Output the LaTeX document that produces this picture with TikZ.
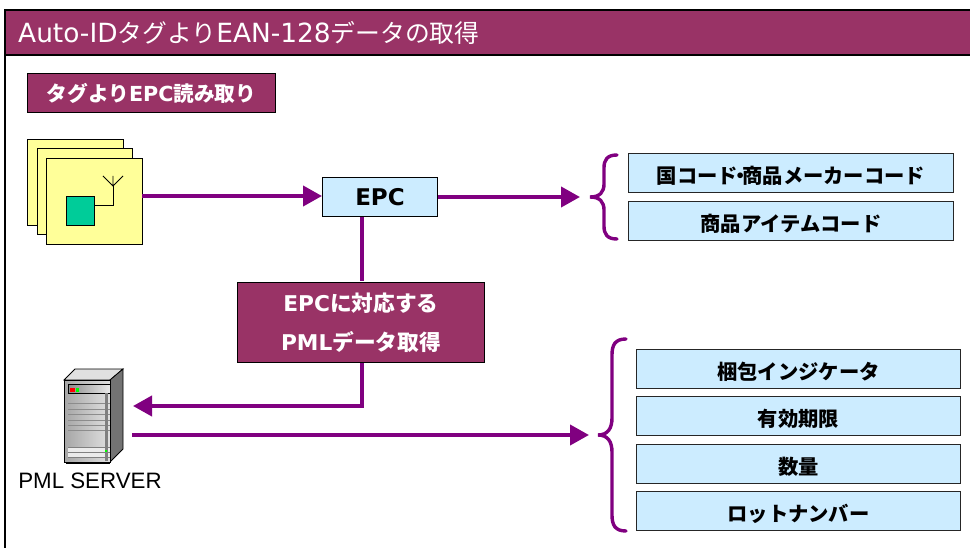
\documentclass[tikz,border=0pt]{standalone}
\usepackage{fontspec}
\setmainfont{DejaVu Sans}
\newfontfamily\jp{Noto Sans CJK JP}
\usetikzlibrary{arrows.meta}
\definecolor{wine}{HTML}{993366}
\definecolor{arrowc}{HTML}{800080}
\definecolor{bluebox}{HTML}{CCECFF}
\definecolor{tagy}{HTML}{FFFF99}
\definecolor{chip}{HTML}{00CC99}
\tikzset{
  x=1pt,y=-1pt,
  flow/.style={draw=arrowc,line width=4pt,-{Triangle[length=19pt,width=20pt]}},
  flowplain/.style={draw=arrowc,line width=4pt},
  bracec/.style={draw=arrowc,line width=3.4pt,line cap=round},
  itembox/.style={draw=black!85,line width=1pt,fill=bluebox,anchor=north west,inner sep=0pt,text=black,font=\jp\bfseries\fontsize{20.3}{20.3}\selectfont,align=center,text height=21.2pt,text depth=0pt,minimum height=39pt},
  winebox/.style={draw=black,line width=1pt,fill=wine,text=white,inner sep=0pt,align=center},
  tagbox/.style={draw=black,line width=0.8pt,fill=tagy,anchor=north west,inner sep=0pt,minimum width=95.5pt,minimum height=86pt},
}
\begin{document}
\begin{tikzpicture}
\useasboundingbox (0,0) rectangle (970,548);
\fill[white] (0,0) rectangle (970,548);
% frame
\fill[wine] (5,10) rectangle (970,55.5);
\draw[black,line width=2pt] (970,10) -- (5,10) -- (5,548);
\draw[black,line width=2pt] (5,55.5) -- (970,55.5);
\node[anchor=west,text=white,inner sep=0pt] (title) at (18,33) {\fontsize{26.4}{26.4}\selectfont Auto-ID{\jp\fontsize{24.8}{24.8}\selectfont タグより}EAN-128{\jp\fontsize{24.8}{24.8}\selectfont データの取得}};
\node[winebox,anchor=north west,minimum width=248pt,minimum height=39pt,text height=18pt,text depth=0pt] (sub) at (27,73) {\fontsize{20.7}{20.7}\selectfont\bfseries{\jp\bfseries タグより}EPC{\jp\bfseries 読み取り}};
% tags
\node[tagbox] (t1) at (27,139) {};
\node[tagbox] (t2) at (36.5,148.5) {};
\node[tagbox] (t3) at (46,158) {};
\node[draw=black,line width=0.8pt,fill=chip,anchor=north west,inner sep=0pt,minimum width=28pt,minimum height=29pt] (chip) at (65.5,196) {};
\coordinate (antbase) at (113,186);
\coordinate (antl) at (103,176);
\coordinate (antr) at (123,176);
\coordinate (antt) at (113,176);
\draw[black,line width=0.9pt] (chip.east |- 0,205.5) -- (113,205.5) -- (antbase);
\draw[black,line width=0.8pt] (antl) -- (antbase) -- (antr) (antbase) -- (antt);
% EPC
\node[draw=black,line width=1pt,fill=bluebox,anchor=north west,inner sep=0pt,minimum width=115pt,minimum height=39pt,font=\bfseries\fontsize{23}{23}\selectfont] (epc) at (322,177) {EPC};
\draw[flow] (t3.east |- 0,196) -- (epc.west |- 0,196);
\coordinate (arrowend1) at (580,197);
\draw[flow] (epc.east |- 0,197) -- (arrowend1);
% PML box
\draw[flowplain] (362,217) -- (362,281);
\coordinate (turn) at (362,406);
\coordinate (srvin) at (133,406);
\coordinate (srvout) at (132,435);
\coordinate (arrowend2) at (589,435);
\draw[flow] (362,362) -- (turn) -- (srvin);
\draw[flow] (srvout) -- (arrowend2);
\node[winebox,anchor=north west,minimum width=247pt,minimum height=80pt,font=\bfseries\fontsize{21.7}{21.7}\selectfont] (pml) at (237,282) {EPC{\jp\bfseries に対応する}\\[17pt]PML{\jp\bfseries データ取得}};
% braces
\draw[bracec] (617,155) .. controls (607,155) and (604,160) .. (604,168) -- (604,184) .. controls (604,192) and (600,197) .. (590,197) .. controls (600,197) and (604,202) .. (604,210) -- (604,226) .. controls (604,234) and (607,239) .. (617,239);
\draw[bracec] (626,339) .. controls (615,339) and (612,345) .. (612,355) -- (612,418) .. controls (612,428) and (608,435) .. (598,435) .. controls (608,435) and (612,442) .. (612,452) -- (612,515) .. controls (612,525) and (615,531) .. (626,531);
% items
\node[itembox,minimum width=325pt] (i1) at (628,153) {国コード\kern-8pt・\kern-8pt商品メーカーコード};
\node[itembox,minimum width=325pt] (i2) at (628,201) {商品アイテムコード};
\node[itembox,minimum width=324pt] (i3) at (636,349) {梱包インジケータ};
\node[itembox,minimum width=324pt] (i4) at (636,396) {有効期限};
\node[itembox,minimum width=324pt] (i5) at (636,444) {数量};
\node[itembox,minimum width=324pt] (i6) at (636,491) {ロットナンバー};
% server
\fill[black!12,draw=black,line width=0.8pt] (64,380) -- (75,369) -- (123,369) -- (110,380) -- cycle;
\fill[black!55,draw=black,line width=0.8pt] (110,380) -- (123,369) -- (123,449) -- (110,462) -- cycle;
\shade[left color=black!35,right color=black!12,draw=black,line width=0.8pt] (64,380) rectangle (110,462);
\shade[left color=black!45,right color=black!8,draw=black,line width=0.5pt] (68,384) rectangle (110,393);
\fill[red] (70,388) rectangle (75,392);
\fill[green] (76,388) rectangle (79,392);
\foreach \yy in {403,409,414,420,425,430}{\draw[black!45,line width=0.7pt] (68,\yy) -- (110,\yy);}
\fill[black!8] (68,447) rectangle (110,457);
\draw[black!50,line width=0.6pt] (68,447) -- (110,447) (68,452) -- (110,452) (68,457) -- (110,457);
\fill[black!50] (105,393) rectangle (107.5,461);
\fill[green] (105,450) rectangle (106.5,451.5);
\draw[black,line width=1.2pt] (66,463) -- (110,463);
\node[inner sep=0pt,anchor=center] (srvlabel) at (90,481) {\fontspec{Liberation Sans}\fontsize{22.3}{22.3}\selectfont PML SERVER};
\end{tikzpicture}
\end{document}
